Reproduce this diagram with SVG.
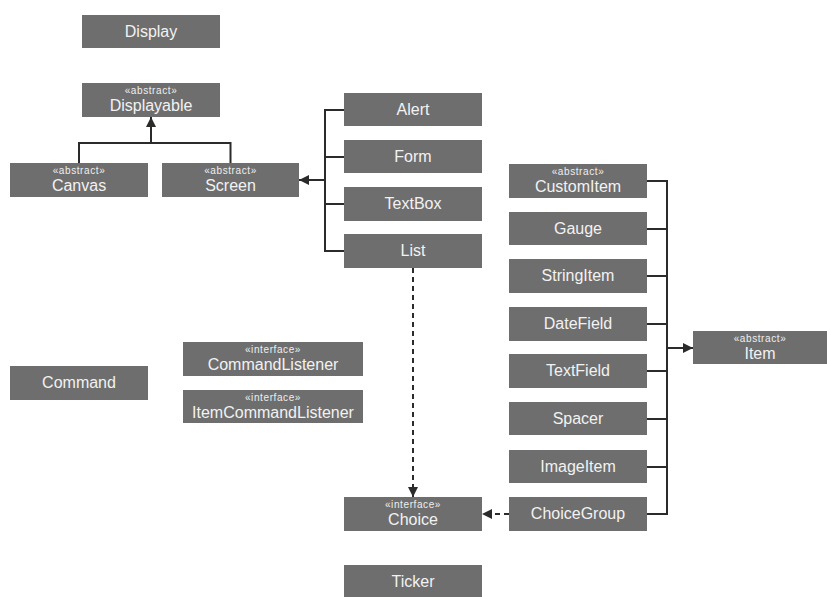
<svg xmlns="http://www.w3.org/2000/svg" width="827" height="597" viewBox="0 0 827 597">
<defs>
<style>
.box{fill:#6e6e6e;}
.name{font-family:"Liberation Sans",Arial,sans-serif;font-size:16px;fill:#f2f2f2;text-anchor:middle;}
.st{font-family:"Liberation Sans",Arial,sans-serif;font-size:10px;letter-spacing:0.6px;fill:#eeeeee;text-anchor:middle;}
.ln{fill:none;stroke:#2b2b2b;stroke-width:2;}
.dash{fill:none;stroke:#2b2b2b;stroke-width:2;stroke-dasharray:5 4;}
</style>
<marker id="arr" viewBox="0 0 10 10" refX="10" refY="5" markerWidth="10" markerHeight="10" markerUnits="userSpaceOnUse" orient="auto">
<path d="M0,0 L10,5 L0,10 z" fill="#2b2b2b"/>
</marker>
</defs>
<rect width="827" height="597" fill="#ffffff"/>

<g id="connectors">
<path class="ln" d="M79,163 V143 H230.5 V163"/>
<path class="ln" d="M151,143 V117" marker-end="url(#arr)"/>
<path class="ln" d="M344,110 H325 V251 H344 M325,157 H344 M325,204 H344"/>
<path class="ln" d="M325,180 H299" marker-end="url(#arr)"/>
<path class="ln" d="M647,181 H667 V514 H647 M647,229 H667 M647,276 H667 M647,324 H667 M647,371 H667 M647,419 H667 M647,467 H667"/>
<path class="ln" d="M667,348 H693" marker-end="url(#arr)"/>
<path class="dash" d="M413,268 V497" marker-end="url(#arr)"/>
<path class="dash" d="M509,514 H482" marker-end="url(#arr)"/>
</g>

<g id="Display"><rect class="box" x="82" y="15" width="138" height="33"/><text class="name" x="151" y="37">Display</text></g>
<g id="Displayable"><rect class="box" x="82" y="83" width="138" height="34"/><text class="st" x="151" y="94">«abstract»</text><text class="name" x="151" y="111">Displayable</text></g>
<g id="Canvas"><rect class="box" x="10" y="163" width="138" height="34"/><text class="st" x="79" y="174">«abstract»</text><text class="name" x="79" y="191">Canvas</text></g>
<g id="Screen"><rect class="box" x="162" y="163" width="137" height="34"/><text class="st" x="230.5" y="174">«abstract»</text><text class="name" x="230.5" y="191">Screen</text></g>

<g id="Alert"><rect class="box" x="344" y="93" width="138" height="33"/><text class="name" x="413" y="115">Alert</text></g>
<g id="Form"><rect class="box" x="344" y="140" width="138" height="33"/><text class="name" x="413" y="162">Form</text></g>
<g id="TextBox"><rect class="box" x="344" y="187" width="138" height="34"/><text class="name" x="413" y="209">TextBox</text></g>
<g id="List"><rect class="box" x="344" y="234" width="138" height="34"/><text class="name" x="413" y="256">List</text></g>

<g id="CustomItem"><rect class="box" x="509" y="164" width="138" height="34"/><text class="st" x="578" y="175">«abstract»</text><text class="name" x="578" y="192">CustomItem</text></g>
<g id="Gauge"><rect class="box" x="509" y="212" width="138" height="33"/><text class="name" x="578" y="234">Gauge</text></g>
<g id="StringItem"><rect class="box" x="509" y="259" width="138" height="34"/><text class="name" x="578" y="281">StringItem</text></g>
<g id="DateField"><rect class="box" x="509" y="307" width="138" height="34"/><text class="name" x="578" y="329">DateField</text></g>
<g id="TextField"><rect class="box" x="509" y="354" width="138" height="34"/><text class="name" x="578" y="376">TextField</text></g>
<g id="Spacer"><rect class="box" x="509" y="402" width="138" height="33"/><text class="name" x="578" y="424">Spacer</text></g>
<g id="ImageItem"><rect class="box" x="509" y="450" width="138" height="33"/><text class="name" x="578" y="472">ImageItem</text></g>
<g id="ChoiceGroup"><rect class="box" x="509" y="497" width="138" height="34"/><text class="name" x="578" y="519">ChoiceGroup</text></g>

<g id="Item"><rect class="box" x="693" y="331" width="134" height="33"/><text class="st" x="760" y="342">«abstract»</text><text class="name" x="760" y="359">Item</text></g>

<g id="Command"><rect class="box" x="10" y="366" width="138" height="34"/><text class="name" x="79" y="388">Command</text></g>
<g id="CommandListener"><rect class="box" x="183" y="342" width="180" height="34"/><text class="st" x="273" y="353">«interface»</text><text class="name" x="273" y="370">CommandListener</text></g>
<g id="ItemCommandListener"><rect class="box" x="183" y="390" width="180" height="33"/><text class="st" x="273" y="401">«interface»</text><text class="name" x="273" y="418">ItemCommandListener</text></g>

<g id="Choice"><rect class="box" x="344" y="497" width="138" height="34"/><text class="st" x="413" y="508">«interface»</text><text class="name" x="413" y="525">Choice</text></g>
<g id="Ticker"><rect class="box" x="344" y="565" width="138" height="33"/><text class="name" x="413" y="587">Ticker</text></g>
</svg>
